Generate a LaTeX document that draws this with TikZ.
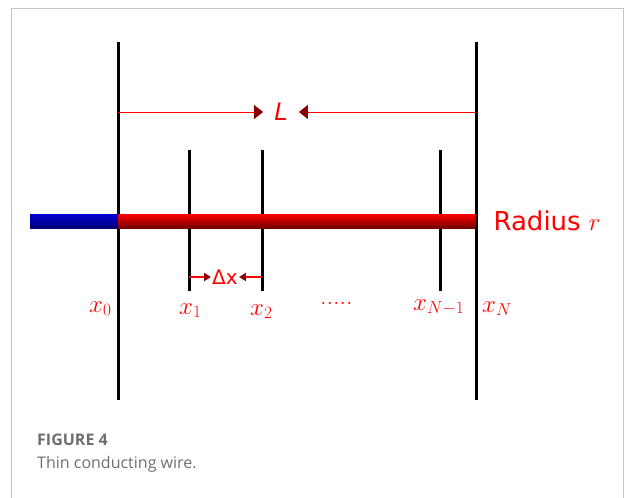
\documentclass[tikz,border=0pt]{standalone}
\usepackage{fontspec}
\setsansfont{DejaVu Sans}
\newfontfamily\captionfont{Open Sans}
\usepackage{tikz}
\usetikzlibrary{arrows.meta, positioning}
\definecolor{wirered}{RGB}{255, 0, 0}
\definecolor{tipred}{RGB}{139, 0, 0}
\definecolor{wireblue}{RGB}{0, 0, 215}
\definecolor{captiongray}{RGB}{110, 110, 110}
\definecolor{framegray}{RGB}{195, 195, 195}

\begin{document}
\begin{tikzpicture}[x=1pt, y=-1pt, >=Stealth,
    wall/.style={line width=3pt, black},
    xlabel/.style={anchor=base west, inner sep=0pt, text=wirered, font=\fontsize{26}{30}\selectfont},
    captext/.style={anchor=base west, inner sep=0pt, text=captiongray, font=\captionfont\fontsize{16}{20}\selectfont}]
    \useasboundingbox (0,0) rectangle (624,498);
    \draw[framegray, line width=1pt] (11,498) -- (11,8) -- (623,8) -- (623,498);
    % grid points along the wire
    \coordinate (x0top) at (118,42);  \coordinate (x0bot) at (118,400);
    \coordinate (xNtop) at (476,42);  \coordinate (xNbot) at (476,400);
    \coordinate (x1top) at (189,150); \coordinate (x1bot) at (189,291);
    \coordinate (x2top) at (262,150); \coordinate (x2bot) at (262,291);
    \coordinate (xMtop) at (440,150); \coordinate (xMbot) at (440,291);
    \draw[wall] (x0top) -- (x0bot);
    \draw[wall] (xNtop) -- (xNbot);
    \foreach \p in {x1, x2, xM}
        \draw[wall] (\p top) -- (\p bot);
    % the wire
    \shade[top color=wireblue, middle color=wireblue, bottom color=blue!45!black] (30,214) rectangle (118,228);
    \shade[top color=wirered, middle color=wirered, bottom color=red!45!black] (118,214) rectangle (476,228);
    \node[anchor=west, text=wirered, font=\sffamily\fontsize{26}{30}\selectfont] (radius) at (490,221) {Radius $r$};
    % length L
    \node[text=wirered, inner xsep=11pt, font=\sffamily\itshape\fontsize{24}{28}\selectfont] (L) at (281,112) {L};
    \draw[wirered, line width=1pt, -{Triangle[length=9pt, width=14pt, color=tipred]}] (x0top |- L.west) -- (L.west);
    \draw[wirered, line width=1pt, -{Triangle[length=9pt, width=14pt, color=tipred]}] (xNtop |- L.east) -- (L.east);
    % step dx
    \node[text=wirered, inner xsep=1pt, font=\sffamily\fontsize{20}{24}\selectfont] (dx) at (225,277) {Δx};
    \draw[wirered, line width=2pt, -{Triangle[length=7pt, width=8pt, color=tipred]}] (x1top |- dx.west) -- (dx.west);
    \draw[wirered, line width=2pt, -{Triangle[length=7pt, width=8pt, color=tipred]}] (x2top |- dx.east) -- (dx.east);
    % labels
    \node[xlabel] (lbl0) at (89,312) {$x_0$};
    \node[xlabel] (lbl1) at (179,314) {$x_1$};
    \node[xlabel] (lbl2) at (250,315) {$x_2$};
    \node[xlabel] (dots) at (320,304) {.....};
    \node[xlabel] (lblM) at (413,310) {$x_{N-1}$};
    \node[xlabel] (lblN) at (482,312) {$x_N$};
    % caption
    \node[captext, font=\captionfont\bfseries\fontsize{16}{20}\selectfont] (fig) at (37,445) {FIGURE 4};
    \node[captext] (cap) at (37,468) {Thin conducting wire.};
\end{tikzpicture}
\end{document}
